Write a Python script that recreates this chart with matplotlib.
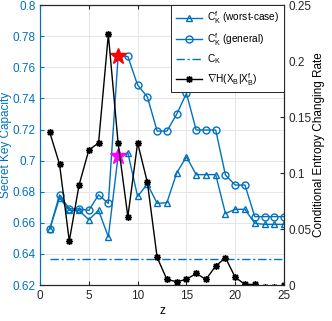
import matplotlib
matplotlib.use("Agg")
import matplotlib.pyplot as plt
import numpy as np

plt.rcParams["font.family"] = ["Liberation Sans", "DejaVu Sans"]
plt.rcParams["mathtext.fontset"] = "custom"
plt.rcParams["mathtext.rm"] = "Liberation Sans"
plt.rcParams["mathtext.it"] = "Liberation Sans:italic"
plt.rcParams["font.size"] = 8.5

# ---------------------------------------------------------------------------
# Data
# ---------------------------------------------------------------------------
z = np.arange(1, 26)
ck_worst = [0.656, 0.676, 0.668, 0.668, 0.662, 0.668, 0.651, 0.703, 0.705, 0.677,
            0.685, 0.6725, 0.673, 0.692, 0.7025, 0.691, 0.691, 0.691, 0.666, 0.6687,
            0.6687, 0.6597, 0.659, 0.659, 0.659]
ck_general = [0.656, 0.678, 0.669, 0.669, 0.668, 0.678, 0.6725, 0.767, 0.767, 0.7486,
              0.741, 0.719, 0.719, 0.7298, 0.7433, 0.7197, 0.7197, 0.7197, 0.6907, 0.6843,
              0.6843, 0.664, 0.664, 0.664, 0.664]
ck_const = 0.6365
grad_h = [0.1363, 0.108, 0.0393, 0.0893, 0.1205, 0.127, 0.2238, 0.127, 0.061, 0.127,
          0.0917, 0.0247, 0.005, 0.003, 0.005, 0.0104, 0.005, 0.017, 0.0244, 0.0069,
          0.0006, 0.0005, -0.002, -0.002, 0.0]
best_general = (8, 0.767)
best_worst = (8, 0.703)

BLUE = "#0072BD"
DARK = "#262626"

fig = plt.figure(figsize=(3.32, 3.21), dpi=100)
ax = fig.add_axes([0.1205, 0.112, 0.735, 0.872])
ax2 = ax.twinx()

l1, = ax.plot(z, ck_worst, color=BLUE, marker="^", markersize=5, mfc="none",
              lw=1.0, label=r"$\mathrm{C}_\mathrm{K}^\mathrm{f}$ (worst-case)")
l2, = ax.plot(z, ck_general, color=BLUE, marker="o", markersize=5, mfc="none",
              lw=1.0, label=r"$\mathrm{C}_\mathrm{K}^\mathrm{f}$ (general)")
l3, = ax.plot(z, np.full(len(z), ck_const), color=BLUE, ls=(0, (6, 2, 1.5, 2)),
              lw=1.0, label=r"$\mathrm{C}_\mathrm{K}$")
ax.plot(*best_general, marker="*", color="red", markersize=12, ls="none", zorder=5)
ax.plot(*best_worst, marker="*", color="magenta", markersize=12, ls="none", zorder=5)

l4, = ax2.plot(z, grad_h, color="black", marker=(8, 2, 0), markersize=5,
               lw=1.0, label=r"$\nabla\mathrm{H}(\mathrm{X}_\mathrm{B}|\mathrm{X}_\mathrm{B}^\mathrm{f})$")

ax.set_xlim(0, 25)
ax.set_ylim(0.62, 0.8)
ax.set_xticks(np.arange(0, 26, 5))
ax.set_yticks(np.arange(0.62, 0.801, 0.02))
ax.set_yticklabels(["0.62", "0.64", "0.66", "0.68", "0.7", "0.72", "0.74",
                    "0.76", "0.78", "0.8"])
ax2.set_ylim(0, 0.25)
ax2.set_yticks([0, 0.05, 0.1, 0.15, 0.2, 0.25])
ax2.set_yticklabels(["0", "0.05", "0.1", "0.15", "0.2", "0.25"])

ax.grid(True, color="#e6e6e6", lw=0.7)
ax.set_axisbelow(True)
ax.set_xlabel("z", labelpad=2)
ax.set_ylabel("Secret Key Capacity", color=BLUE, labelpad=0.5)
ax2.set_ylabel("Conditional Entropy Changing Rate", color="black", labelpad=1.5)

ax.tick_params(axis="y", colors=BLUE, direction="in", length=3, pad=3)
ax.tick_params(axis="x", colors=DARK, direction="in", length=3, top=True)
ax2.tick_params(axis="y", colors=DARK, direction="in", length=3, pad=3)
ax2.spines["left"].set_color(BLUE)
ax.spines["left"].set_color(BLUE)
for s in ["top", "right", "bottom"]:
    ax2.spines[s].set_color(DARK)

leg = ax2.legend(handles=[l1, l2, l3, l4], loc="upper right", fontsize=7.3,
                 handlelength=2.6, handletextpad=0.5, borderaxespad=0.0,
                 labelspacing=0.45, borderpad=0.45,
                 fancybox=False, framealpha=1, edgecolor=DARK)
leg.get_frame().set_linewidth(0.7)

fig.savefig("out.png", dpi=100, facecolor="white")
